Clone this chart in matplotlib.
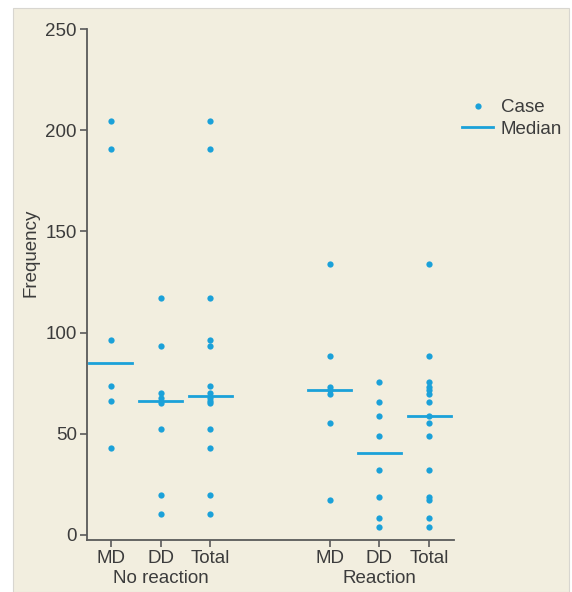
import matplotlib
matplotlib.use('Agg')
import matplotlib.pyplot as plt
from matplotlib.patches import Rectangle
import numpy as np

plt.rcParams['font.family'] = ['Liberation Sans', 'DejaVu Sans']

# values
no_reaction_md = [204.5, 190.7, 96.5, 73.6, 66.4, 43.1]
no_reaction_dd = [117.3, 93.2, 70.0, 67.5, 65.1, 52.4, 19.6, 10.5]
reaction_md = [133.7, 88.6, 73.0, 71.6, 69.7, 55.3, 17.5]
reaction_dd = [75.6, 65.5, 58.6, 49.1, 32.3, 18.6, 8.4, 4.0]

cat_labels = ['MD', 'DD', 'Total', 'MD', 'DD', 'Total']
group_labels = ['No reaction', 'Reaction']
yticks = [0, 50, 100, 150, 200, 250]

groups = [no_reaction_md, no_reaction_dd, no_reaction_md + no_reaction_dd,
          reaction_md, reaction_dd, reaction_md + reaction_dd]
xpos = [1, 2, 3, 5.4, 6.4, 7.4]

blue = '#1ba1d9'
cream = '#f2eedf'
textc = '#3c3c3c'
axc = '#5a5a5a'
fs = 13.5

fig = plt.figure(figsize=(5.72, 5.92), dpi=100)
fig.patch.set_facecolor('white')
fig.patches.append(Rectangle((13 / 572, 0), (569 - 13) / 572, 1 - 8 / 592,
                             transform=fig.transFigure, facecolor=cream,
                             edgecolor='#d8d6d0', lw=0.8, zorder=-5))

ax = fig.add_axes([86.5 / 572, 1 - 540 / 592, (454 - 86.5) / 572, (540 - 29) / 592])
ax.set_facecolor(cream)
ax.set_zorder(2)

for x, vals in zip(xpos, groups):
    ax.plot([x] * len(vals), vals, 'o', color=blue, ms=4.5, mec='none', zorder=3)
    med = np.median(vals)
    ax.plot([x - 0.43, x + 0.43], [med, med], color=blue, lw=2, zorder=2)

ax.set_xlim(0.51, 7.9)
ax.set_ylim(-2.5, 250)
ax.set_xticks(xpos)
ax.set_xticklabels(cat_labels)
ax.set_yticks(yticks)
for s in ['top', 'right']:
    ax.spines[s].set_visible(False)
for s in ['left', 'bottom']:
    ax.spines[s].set_color(axc)
    ax.spines[s].set_linewidth(1.3)
ax.spines['left'].set_bounds(-2.5, 250)
ax.tick_params(direction='out', length=5, width=1.2, color=axc,
               labelsize=fs, labelcolor=textc, pad=2)

ax.set_ylabel('Frequency', fontsize=fs, color=textc)
ax.yaxis.set_label_coords(-0.128, 0.562)

for i, lab in enumerate(group_labels):
    ax.text(np.mean(xpos[i * 3:i * 3 + 3]), -0.058, lab, transform=ax.get_xaxis_transform(),
            ha='center', va='top', fontsize=fs, color=textc)

h1, = ax.plot([], [], 'o', color=blue, ms=4.5, mec='none')
h2, = ax.plot([], [], color=blue, lw=2)
ax.legend([h1, h2], ['Case', 'Median'], loc='upper left', bbox_to_anchor=(0.99, 0.885),
          frameon=False, fontsize=fs, handlelength=1.7, handletextpad=0.4,
          labelspacing=0.25, labelcolor=textc, borderaxespad=0.2)

fig.savefig('out.png', dpi=100)
